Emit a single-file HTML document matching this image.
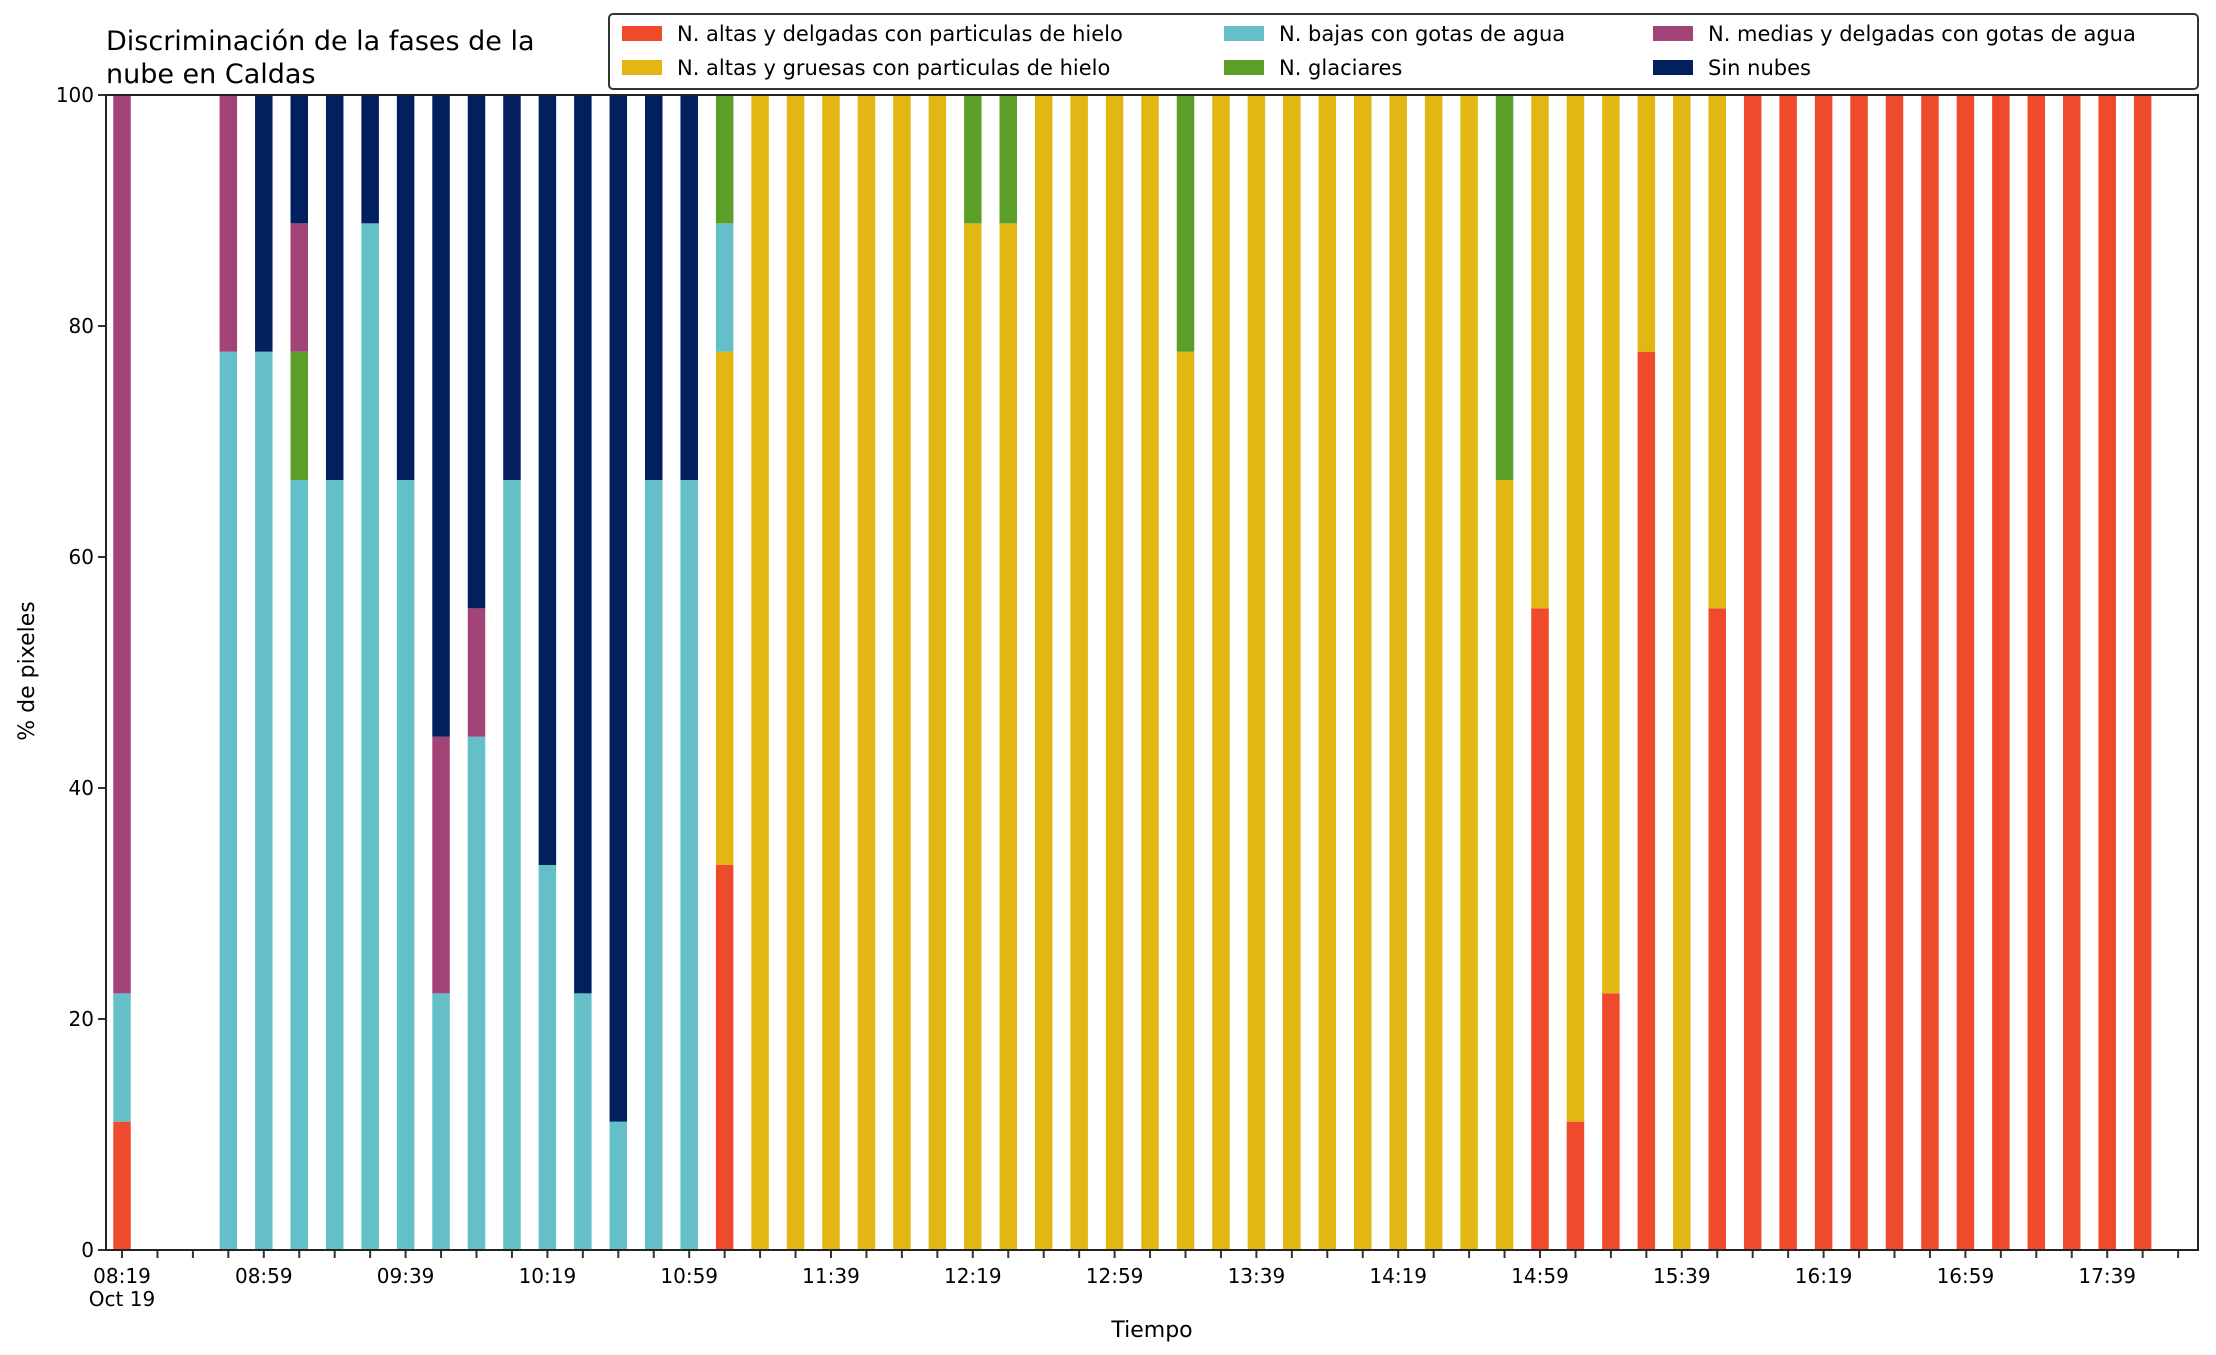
<!DOCTYPE html>
<html><head><meta charset="utf-8"><style>
html,body{margin:0;padding:0;background:#fff;}
svg{display:block;font-family:"DejaVu Sans","Liberation Sans",sans-serif;}
</style></head><body>
<svg id="chart" width="2216" height="1355" viewBox="0 0 2216 1355" xmlns="http://www.w3.org/2000/svg">
<rect x="0" y="0" width="2216" height="1355" fill="#fff"/>
<g id="bars"></g>
<g id="axes"></g>
<text x="106" y="50" font-size="27" fill="#000">Discriminación de la fases de la</text>
<text x="106" y="83" font-size="27" fill="#000">nube en Caldas</text>
<text x="1152" y="1337" font-size="22" text-anchor="middle" fill="#000">Tiempo</text>
<text x="34" y="671" font-size="22" text-anchor="middle" fill="#000" transform="rotate(-90 34 671)">% de pixeles</text>
<g id="legend">
<rect x="609" y="14" width="1589" height="75" rx="4" fill="#fff" stroke="#333" stroke-width="2"/>
</g>
</svg>
<script>
// ninths of 100 (each image has 9 pixels)
const timeLabels = ["08:19","08:59","09:39","10:19","10:59","11:39","12:19","12:59","13:39","14:19","14:59","15:39","16:19","16:59","17:39"];
const yTicks = [0,20,40,60,80,100];
const seriesNames = ["N. altas y delgadas con particulas de hielo","N. altas y gruesas con particulas de hielo","N. bajas con gotas de agua","N. glaciares","N. medias y delgadas con gotas de agua","Sin nubes"];
const seriesColors = ["#f04a2c","#e2b713","#64bfc9","#5b9f28","#a24478","#02205e"];
// values in ninths per 10-min slot (58 slots, 08:19..17:49)
const redVals    = [1,0,0,0,0,0,0,0,0,0,0,0,0,0,0,0,0,3,0,0,0,0,0,0,0,0,0,0,0,0,0,0,0,0,0,0,0,0,0,0,5,1,2,7,0,5,9,9,9,9,9,9,9,9,9,9,9,9];
const yellowVals = [0,0,0,0,0,0,0,0,0,0,0,0,0,0,0,0,0,4,9,9,9,9,9,9,8,8,9,9,9,9,7,9,9,9,9,9,9,9,9,6,4,8,7,2,9,4,0,0,0,0,0,0,0,0,0,0,0,0];
const cyanVals   = [1,0,0,7,7,6,6,8,6,2,4,6,3,2,1,6,6,1,0,0,0,0,0,0,0,0,0,0,0,0,0,0,0,0,0,0,0,0,0,0,0,0,0,0,0,0,0,0,0,0,0,0,0,0,0,0,0,0];
const greenVals  = [0,0,0,0,0,1,0,0,0,0,0,0,0,0,0,0,0,1,0,0,0,0,0,0,1,1,0,0,0,0,2,0,0,0,0,0,0,0,0,3,0,0,0,0,0,0,0,0,0,0,0,0,0,0,0,0,0,0];
const purpleVals = [7,0,0,2,0,1,0,0,0,2,1,0,0,0,0,0,0,0,0,0,0,0,0,0,0,0,0,0,0,0,0,0,0,0,0,0,0,0,0,0,0,0,0,0,0,0,0,0,0,0,0,0,0,0,0,0,0,0];
const navyVals   = [0,0,0,0,2,1,3,1,3,5,4,3,6,7,8,3,3,0,0,0,0,0,0,0,0,0,0,0,0,0,0,0,0,0,0,0,0,0,0,0,0,0,0,0,0,0,0,0,0,0,0,0,0,0,0,0,0,0];
const allSeries = [redVals,yellowVals,cyanVals,greenVals,purpleVals,navyVals];

const NS="http://www.w3.org/2000/svg";
const L=106,R=2198,T=95,B=1250;
const x0=122, step=35.45, barW=17.5;
const xs=i=>x0+i*step;
const ys=v=>B-(v/100)*(B-T);
function mk(tag,attrs,parent){const e=document.createElementNS(NS,tag);for(const k in attrs)e.setAttribute(k,attrs[k]);parent.appendChild(e);return e;}
const gb=document.getElementById('bars');
for(let i=0;i<redVals.length;i++){
  let acc=0;
  allSeries.forEach((s,si)=>{
    const v=s[i]/9*100;
    if(v>0){
      const r=mk('rect',{x:xs(i)-barW/2,y:ys(acc+v),width:barW,height:ys(acc)-ys(acc+v),fill:seriesColors[si]},gb);
      
      
    }
    acc+=v;
  });
}
const ga=document.getElementById('axes');
// ticks x
for(let i=0;i<=58;i++){
  const l=mk('line',{x1:xs(i),x2:xs(i),y1:B,y2:B+8,stroke:'#333','stroke-width':2},ga);
  
  
}
timeLabels.forEach((t,k)=>{
  const tx=mk('text',{x:xs(k*4),y:1283,'font-size':20,'text-anchor':'middle',fill:'#000'},ga);
  tx.textContent=t;
  
  
});
const oc=mk('text',{x:xs(0),y:1306,'font-size':20,'text-anchor':'middle',fill:'#000'},ga);
oc.textContent='Oct 19';


yTicks.forEach(v=>{
  mk('line',{x1:L-8,x2:L,y1:ys(v),y2:ys(v),stroke:'#333','stroke-width':2},ga);
  const tx=mk('text',{x:L-12,y:ys(v)+7,'font-size':20,'text-anchor':'end',fill:'#000'},ga);
  tx.textContent=v;
  
  
});
const fr=mk('rect',{x:L,y:T,width:R-L,height:B-T,fill:'none',stroke:'#222','stroke-width':2},ga);


// legend
const gl=document.getElementById('legend');
const colX=[622,1224,1653], rowY=[34,68];
seriesNames.forEach((n,i)=>{
  const c=i%2===0?0:0;
  // column-major order: col0: 0,1 ; col1: 2,3 ; col2: 4,5
  const col=Math.floor(i/2), row=i%2;
  const p=mk('rect',{x:colX[col],y:rowY[row]-8,width:40,height:15,fill:seriesColors[i]},gl);
  
  
  const t=mk('text',{x:colX[col]+55,y:rowY[row]+7,'font-size':21,fill:'#000'},gl);
  t.textContent=n;
  
  
});
</script>
</body></html>
